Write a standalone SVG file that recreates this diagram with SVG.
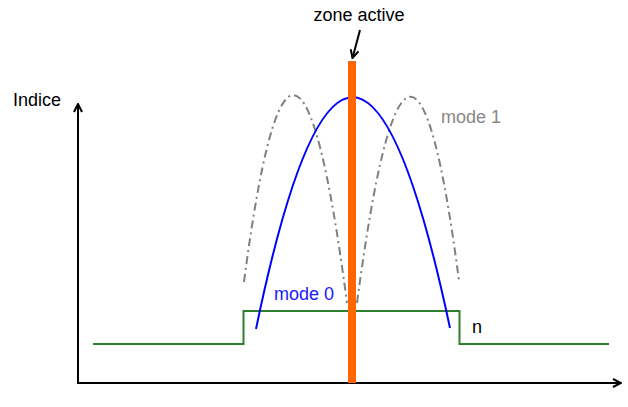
<svg xmlns="http://www.w3.org/2000/svg" width="628" height="407" viewBox="0 0 628 407">
<style>
text{font-family:"Liberation Sans",Arial,sans-serif;font-size:18px}
.ax{stroke:#000;stroke-width:2;fill:none}
.g{stroke:#808080;stroke-width:2;fill:none;stroke-dasharray:8 4 2 4}
</style>
<defs>
<marker id="ah" viewBox="0 0 10 10" refX="9" refY="5" markerWidth="10" markerHeight="10" markerUnits="userSpaceOnUse" orient="auto">
<polyline points="1,1 9,5 1,9" fill="none" stroke="#000" stroke-width="2"/>
</marker>
</defs>
<g id="connectors">
<line class="ax" x1="78" y1="384" x2="78" y2="104" marker-end="url(#ah)"/>
<line class="ax" x1="77" y1="383" x2="621" y2="383" marker-end="url(#ah)"/>
<line x1="360" y1="30" x2="352.5" y2="58" stroke="#000" stroke-width="2" marker-end="url(#ah)"/>
</g>
<g id="n-step">
<polyline points="93,344 243.5,344 243.5,311 459.5,311 459.5,344 609,344" fill="none" stroke="#2f7f2f" stroke-width="2"/>
<text x="472" y="333" fill="#000">n</text>
</g>
<g id="mode1">
<path class="g" d="M244,282 Q294,-102 347,303"/>
<path class="g" d="M357,303 Q410,-98 459,281"/>
<text x="441" y="123" fill="#888">mode 1</text>
</g>
<g id="mode0">
<path d="M256,329 Q352,-134 450,328" fill="none" stroke="#0000ff" stroke-width="2"/>
<text x="274" y="300" fill="#1a1aff">mode 0</text>
</g>
<g id="zone">
<rect x="348" y="61" width="8" height="322" fill="#ff6600"/>
<text x="359" y="21" text-anchor="middle" fill="#000">zone active</text>
</g>
<g id="axis-label">
<text x="13" y="106" fill="#000">Indice</text>
</g>
</svg>
